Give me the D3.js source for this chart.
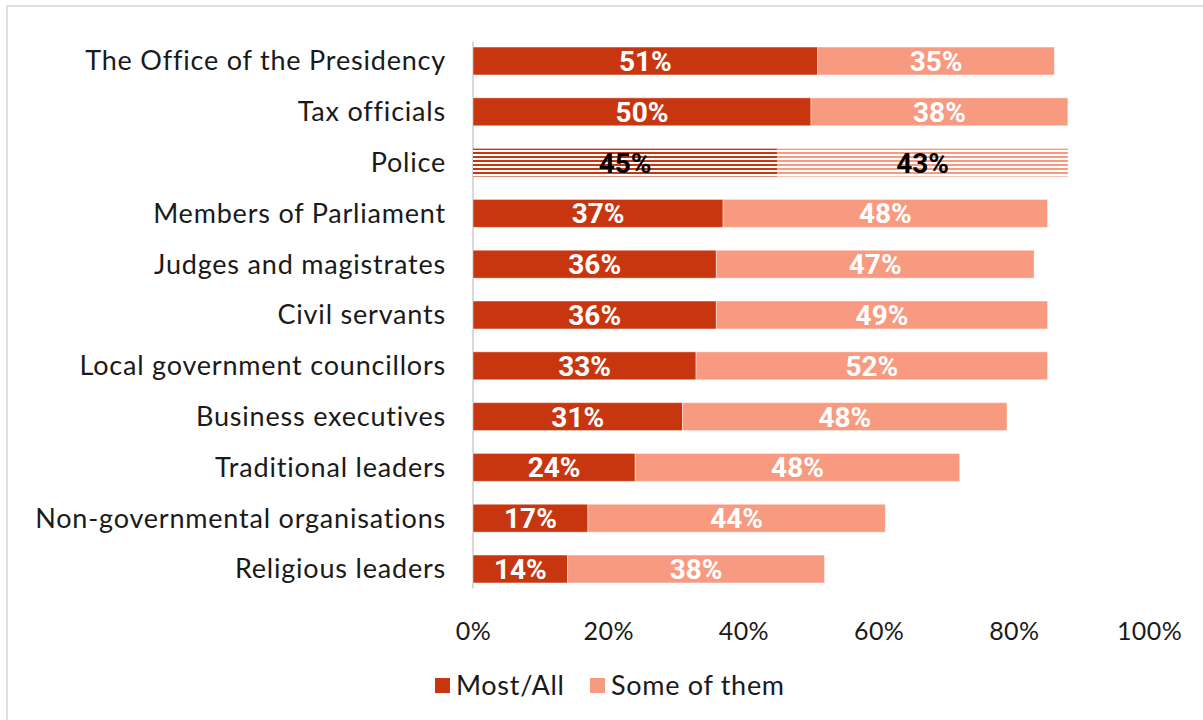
<!DOCTYPE html>
<html>
<head>
<meta charset="utf-8">
<script src="https://cdn.jsdelivr.net/npm/d3@7"></script>
<style>
  html, body { margin: 0; padding: 0; background: #fff; }
  svg { display: block; }
  .cat { font-family: "Lato", "Open Sans", sans-serif; font-size: 27px; letter-spacing: 0.8px; fill: #1a1a1a; }
  .tick-label { font-family: "Lato", "Open Sans", sans-serif; font-size: 25px; letter-spacing: 0.4px; fill: #1a1a1a; }
  .val { font-family: "Liberation Sans Narrow", "Roboto", sans-serif; font-weight: bold; font-size: 28px; }
  .legend-text { font-family: "Lato", "Open Sans", sans-serif; font-size: 27px; letter-spacing: 0.7px; fill: #1a1a1a; }
</style>
</head>
<body>
<svg id="chart" width="1203" height="720"></svg>
<script>
// Share of respondents saying "most/all" or "some" of each group are involved in corruption
const categories = [
  "The Office of the Presidency",
  "Tax officials",
  "Police",
  "Members of Parliament",
  "Judges and magistrates",
  "Civil servants",
  "Local government councillors",
  "Business executives",
  "Traditional leaders",
  "Non-governmental organisations",
  "Religious leaders"
];
const mostAll = [51, 50, 45, 37, 36, 36, 33, 31, 24, 17, 14];
const someOfThem = [35, 38, 43, 48, 47, 49, 52, 48, 48, 44, 38];
const tickValues = [0, 20, 40, 60, 80, 100];
const seriesNames = ["Most/All", "Some of them"];
const highlighted = "Police";

const colors = { most: "#C8360F", some: "#F79A80" };

const svg = d3.select("#chart");

// Frame (only the left and top edges fall inside the canvas)
svg.append("path")
  .attr("d", "M7,720 L7,6 L1203,6")
  .attr("fill", "none")
  .attr("stroke", "#E0E0E0")
  .attr("stroke-width", 2);

const x = d3.scaleLinear().domain([0, 100]).range([473, 1149]);
const y = d3.scaleBand().domain(categories).range([35.6, 594.4]).paddingInner(0.45).paddingOuter(0.225);

// Striped fills for the highlighted row
const defs = svg.append("defs");
function stripes(id, color) {
  const p = defs.append("pattern")
    .attr("id", id)
    .attr("patternUnits", "userSpaceOnUse")
    .attr("width", 8).attr("height", 4);
  p.append("rect").attr("width", 8).attr("height", 4).attr("fill", "#fff");
  p.append("rect").attr("y", 0).attr("width", 8).attr("height", 2).attr("fill", color);
}
stripes("stripe-most", colors.most);
stripes("stripe-some", colors.some);

const rows = categories.map((c, i) => ({ cat: c, most: mostAll[i], some: someOfThem[i] }));

// Vertical category axis line
svg.append("line")
  .attr("x1", x(0)).attr("x2", x(0))
  .attr("y1", y.range()[0] + 6).attr("y2", y.range()[1] - 6)
  .attr("stroke", "#D9D9D9").attr("stroke-width", 2);

const g = svg.append("g");
const row = g.selectAll("g.row").data(rows).join("g").attr("class", "row");

// Most/All segment
row.append("rect")
  .attr("x", x(0))
  .attr("y", d => y(d.cat))
  .attr("width", d => x(d.most) - x(0))
  .attr("height", y.bandwidth())
  .attr("fill", d => d.cat === highlighted ? "url(#stripe-most)" : colors.most)
  .attr("stroke", d => d.cat === highlighted ? "none" : "rgba(255,255,255,0.45)")
  .attr("stroke-width", 1);

// Some of them segment
row.append("rect")
  .attr("x", d => x(d.most))
  .attr("y", d => y(d.cat))
  .attr("width", d => x(d.most + d.some) - x(d.most))
  .attr("height", y.bandwidth())
  .attr("fill", d => d.cat === highlighted ? "url(#stripe-some)" : colors.some)
  .attr("stroke", d => d.cat === highlighted ? "none" : "rgba(255,255,255,0.45)")
  .attr("stroke-width", 1);

// Value labels centred in each segment
row.append("text")
  .attr("class", "val")
  .attr("x", d => (x(0) + x(d.most)) / 2)
  .attr("y", d => y(d.cat) + y.bandwidth() / 2)
  .attr("dy", "0.36em")
  .attr("text-anchor", "middle")
  .attr("fill", d => d.cat === highlighted ? "#000" : "#fff")
  .text(d => d.most + "%");

row.append("text")
  .attr("class", "val")
  .attr("x", d => (x(d.most) + x(d.most + d.some)) / 2)
  .attr("y", d => y(d.cat) + y.bandwidth() / 2)
  .attr("dy", "0.36em")
  .attr("text-anchor", "middle")
  .attr("fill", d => d.cat === highlighted ? "#000" : "#fff")
  .text(d => d.some + "%");

// Category labels
svg.append("g").selectAll("text").data(categories).join("text")
  .attr("class", "cat")
  .attr("x", 446)
  .attr("y", d => y(d) + y.bandwidth() / 2)
  .attr("dy", "0.35em")
  .attr("text-anchor", "end")
  .text(d => d);

// Percentage axis (labels only)
const xAxis = d3.axisBottom(x).tickValues(tickValues).tickFormat(d => d + "%").tickSize(0).tickPadding(0);
const axisG = svg.append("g").attr("transform", "translate(0,631)").call(xAxis);
axisG.select(".domain").remove();
axisG.selectAll("text")
  .attr("class", "tick-label")
  .attr("font-family", null).attr("font-size", null)
  .attr("fill", "#1a1a1a")
  .attr("y", 0).attr("dy", "0.35em");

// Legend
const legend = svg.append("g").attr("transform", "translate(0,685.5)");
const legendItems = [
  { name: seriesNames[0], color: colors.most, x: 435 },
  { name: seriesNames[1], color: colors.some, x: 590 }
];
const li = legend.selectAll("g").data(legendItems).join("g")
  .attr("transform", d => `translate(${d.x},0)`);
li.append("rect").attr("x", 0).attr("y", -7.5).attr("width", 15).attr("height", 15).attr("fill", d => d.color);
li.append("text").attr("class", "legend-text").attr("x", 21).attr("dy", "0.35em").text(d => d.name);
</script>
</body>
</html>
